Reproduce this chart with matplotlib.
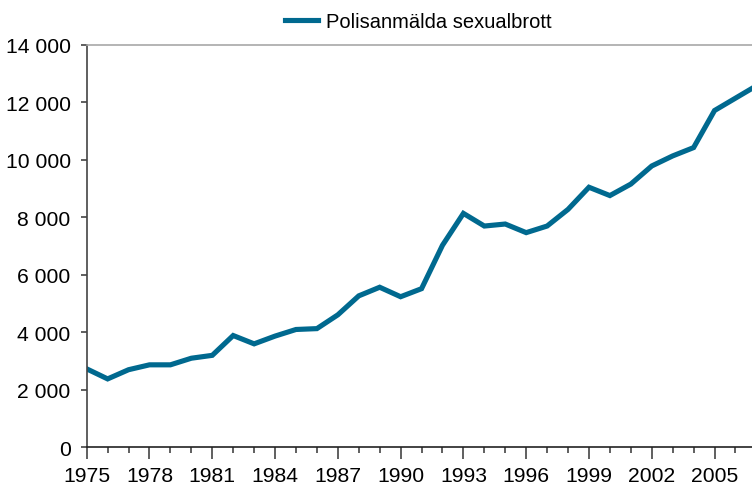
"""Polisanmälda sexualbrott 1975-2007."""

from matplotlib import pyplot as plt
from matplotlib.ticker import FuncFormatter, FixedLocator, MultipleLocator

plt.rcParams['font.family'] = ['Liberation Sans', 'DejaVu Sans']

years = list(range(1975, 2008))
reported = [2730, 2380, 2700, 2870, 2870, 3100, 3200, 3890, 3600, 3870,
            4100, 4130, 4610, 5270, 5570, 5240, 5520, 7030, 8140, 7700,
            7770, 7470, 7700, 8280, 9050, 8760, 9160, 9790, 10140, 10430,
            11720, 12150, 12580]
label_years = list(range(1975, 2007, 3))
label = 'Polisanmälda sexualbrott'
colour = '#00698f'


def thousands(v, pos):
    """Format with space as thousands separator."""
    return f'{int(v):,}'.replace(',', ' ')


fig = plt.figure(figsize=(7.52, 4.89), dpi=100)
ax = fig.add_axes([86.7 / 752, 40.7 / 489, 665.3 / 752, 402.3 / 489])
line, = ax.plot(years, reported, color=colour, linewidth=3.7,
                solid_joinstyle='miter')

ax.set_xlim(1975, 2006.79)
ax.set_ylim(0, 14000)
ax.xaxis.set_major_locator(FixedLocator(label_years))
ax.xaxis.set_minor_locator(MultipleLocator(1))
ax.yaxis.set_major_locator(MultipleLocator(2000))
ax.yaxis.set_major_formatter(FuncFormatter(thousands))

ax.tick_params(axis='x', which='major', length=8.5, width=1.2, color='#444444',
               labelsize=15.2, pad=5)
ax.tick_params(axis='x', which='minor', length=4.3, width=1.2, color='#444444')
ax.tick_params(axis='y', length=4, width=1.2, color='#444444',
               labelsize=15.2, pad=7.5)

ax.spines['right'].set_visible(False)
ax.spines['top'].set_color('#a8a8a8')
ax.spines['top'].set_linewidth(1.2)
ax.spines['left'].set_color('#444444')
ax.spines['left'].set_linewidth(1.2)
ax.spines['bottom'].set_color('#222222')
ax.spines['bottom'].set_linewidth(1.2)

fig.legend([line], [label], loc='center left', bbox_to_anchor=(285 / 752, 0.953),
           frameon=False, fontsize=14.5, borderpad=0, borderaxespad=0,
           handlelength=1.64, handletextpad=0.4)

fig.savefig('out.png', dpi=100)
